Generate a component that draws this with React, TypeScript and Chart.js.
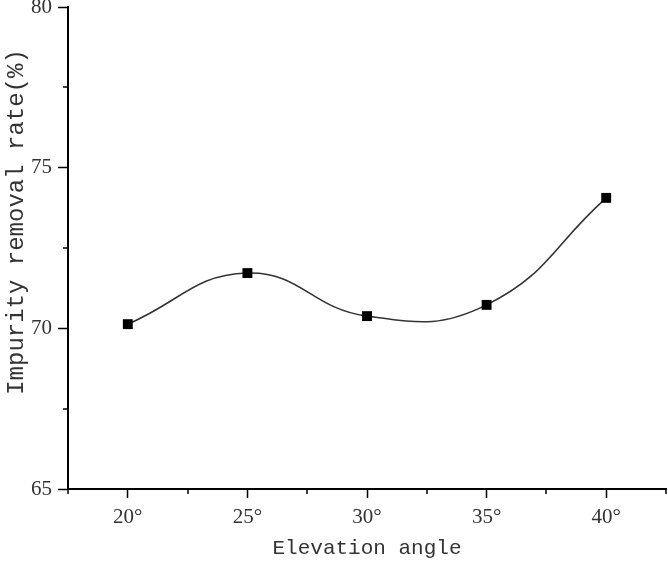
import React, { useEffect, useRef } from "react";
import { Chart, registerables } from "chart.js";

Chart.register(...registerables);

const categories = ["20°", "25°", "30°", "35°", "40°"];
const removalRate = [70.13, 71.72, 70.38, 70.73, 74.06];
const yMinorTicks = [67.5, 72.5, 77.5];
const xTitle = "Elevation angle";
const yTitle = "Impurity removal rate(%)";

const minorTicks = {
  id: "minorTicks",
  afterDraw(chart: any) {
    const ctx = chart.ctx;
    const x = chart.scales.x;
    const y = chart.scales.y;
    ctx.save();
    ctx.strokeStyle = "#000";
    ctx.lineWidth = 1.5;
    ctx.beginPath();
    for (let i = -0.5; i <= categories.length - 0.5; i += 1) {
      const px = Math.round(x.getPixelForValue(i));
      ctx.moveTo(px, x.top);
      ctx.lineTo(px, x.top + 5);
    }
    for (const v of yMinorTicks) {
      const py = Math.round(y.getPixelForValue(v));
      ctx.moveTo(y.right, py);
      ctx.lineTo(y.right - 5, py);
    }
    ctx.stroke();
    // y axis title
    ctx.translate(17, 222);
    ctx.rotate(-Math.PI / 2);
    ctx.fillStyle = "#333";
    ctx.font = "24px 'Liberation Mono'";
    ctx.textAlign = "center";
    ctx.textBaseline = "middle";
    ctx.fillText(yTitle, 0, 0);
    ctx.restore();
  },
};

export default function App() {
  const ref = useRef<HTMLCanvasElement>(null);
  useEffect(() => {
    if (!ref.current) return;
    const chart = new Chart(ref.current, {
      type: "line",
      data: {
        labels: categories,
        datasets: [
          {
            data: removalRate,
            borderColor: "#333",
            borderWidth: 1.6,
            tension: 0.45,
            pointStyle: "rect",
            pointRadius: 7,
            pointBackgroundColor: "#000",
            pointBorderColor: "#000",
            pointBorderWidth: 0,
          },
        ],
      },
      options: {
        animation: false,
        responsive: false,
        maintainAspectRatio: false,
        layout: { autoPadding: false, padding: { top: 7, right: 2, bottom: 0, left: 0 } },
        plugins: { legend: { display: false }, tooltip: { enabled: false } },
        scales: {
          x: {
            type: "category",
            offset: true,
            afterFit: (s: any) => {
              s.height = 72;
              s.paddingLeft = 0;
              s.paddingRight = 0;
            },
            grid: {
              display: true,
              drawOnChartArea: false,
              drawTicks: true,
              tickLength: 9,
              tickColor: "#000",
              tickWidth: 1.5,
              offset: false,
            },
            border: { display: true, color: "#000", width: 2 },
            ticks: {
              color: "#333",
              font: { family: "Liberation Serif", size: 21 },
              padding: 7,
              maxRotation: 0,
            },
            title: {
              display: true,
              text: xTitle,
              color: "#333",
              font: { family: "Liberation Mono", size: 21 },
              padding: { top: 0, bottom: 0 },
            },
          },
          y: {
            min: 65,
            max: 80,
            afterFit: (s: any) => {
              s.width = 68;
              s.paddingTop = 0;
              s.paddingBottom = 0;
            },
            grid: {
              display: true,
              drawOnChartArea: false,
              drawTicks: true,
              tickLength: 10,
              tickColor: "#000",
              tickWidth: 1.5,
            },
            border: { display: true, color: "#000", width: 2 },
            ticks: {
              stepSize: 5,
              color: "#333",
              font: { family: "Liberation Serif", size: 21 },
              padding: 6,
            },
            title: { display: false },
          },
        },
      },
      plugins: [minorTicks],
    });
    return () => chart.destroy();
  }, []);
  return (
    <div style={{ position: "fixed", left: 0, top: 0, width: 668, height: 561, background: "#fff" }}>
      <canvas ref={ref} width={668} height={561} />
    </div>
  );
}
